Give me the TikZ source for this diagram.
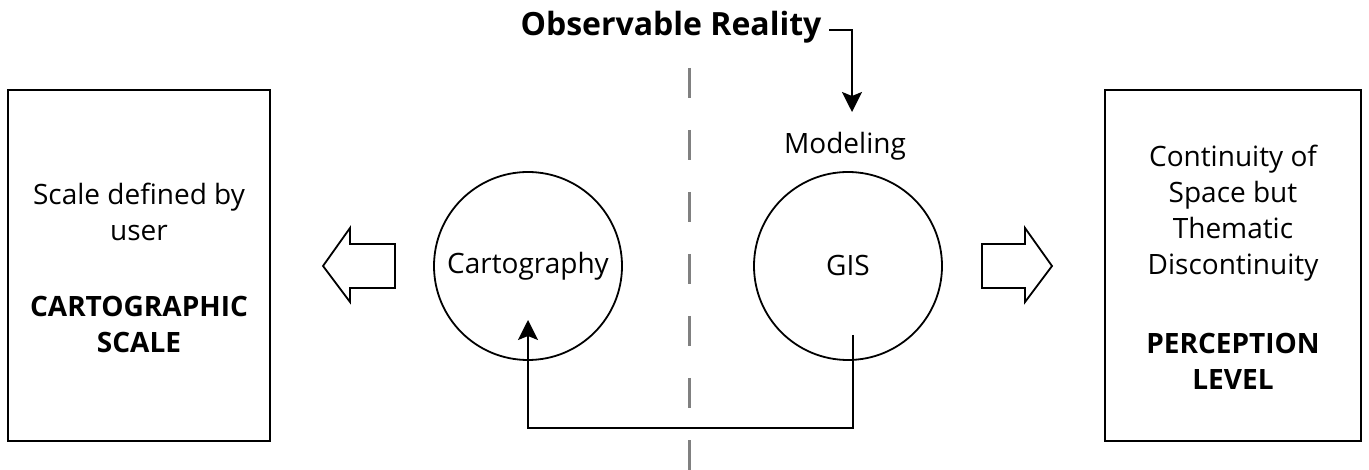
\documentclass[tikz,border=0pt]{standalone}
\usepackage{fontspec}
\setmainfont{Open Sans}
\usetikzlibrary{arrows.meta}
\begin{document}
\begin{tikzpicture}[x=1pt,y=-1pt,
  lbl/.style={font=\fontsize{28}{36}\selectfont, align=center, inner sep=0pt},
  boxed/.style={draw, line width=2pt, inner sep=0pt},
  ring/.style={draw, circle, line width=1.8pt, minimum size=188pt, inner sep=0pt, font=\fontsize{28}{36}\selectfont},
  conn/.style={line width=1.8pt, -{Stealth[length=20pt,width=20pt,inset=4pt]}},
  block/.style={line width=1.8pt, line join=miter},
  divider/.style={line width=3pt, draw=black!50, dash pattern=on 30pt off 32pt}
]
\useasboundingbox (0,0) rectangle (1369,470);
% boxes
\node[boxed, minimum width=262pt, minimum height=351pt] (lbox) at (139,265.5) {};
\node[boxed, minimum width=256pt, minimum height=351pt] (rbox) at (1233,265.5) {};
\node[lbl] (ltext) at (139,212) {Scale defined by\\user};
\node[lbl] (ltitle) at (139,324) {\bfseries CARTOGRAPHIC\\\bfseries SCALE};
\node[lbl] (rtext) at (1233,213) {Continuity of\\Space but\\Thematic\\Discontinuity};
\node[lbl] (rtitle) at (1233,361) {\bfseries PERCEPTION\\\bfseries LEVEL};
% circles
\node[ring] (carto) at (528,266) {Cartography};
\node[ring] (gis) at (848,266) {GIS};
\node[lbl] (model) at (845,146) {Modeling};
% title
\node[lbl, font=\bfseries\fontsize{32}{36}\selectfont] (obs) at (671,27) {Observable Reality};
% divider
\coordinate (dtop) at (689,68);
\coordinate (dbot) at (689,470);
\draw[divider] (dtop) -- (dbot);
% block arrows
\draw[block] (395,244) -- (350,244) -- (350,228) -- (323,266) -- (350,302) -- (350,288) -- (395,288) -- cycle;
\draw[block] (982,244) -- (1025,244) -- (1025,228) -- (1052,266) -- (1025,302) -- (1025,288) -- (982,288) -- cycle;
% connectors
\coordinate (obsend) at (829,30);
\coordinate (modeltip) at (852,112);
\draw[conn] (obsend) -| (modeltip);
\coordinate (gisfoot) at (853,335);
\coordinate (cartotip) at (528,320);
\draw[conn] (gisfoot) -- (853,428) -| (cartotip);
\end{tikzpicture}
\end{document}
